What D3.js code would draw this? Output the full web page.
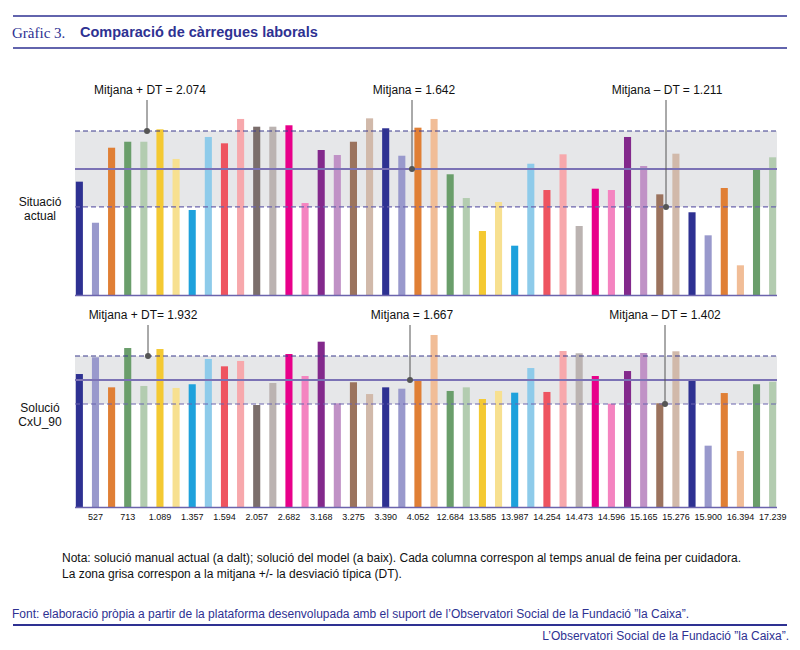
<!DOCTYPE html>
<html><head><meta charset="utf-8">
<script src="https://cdn.jsdelivr.net/npm/d3@7"></script>
<style>body{margin:0;background:#fff}svg{display:block}</style>
</head><body>
<svg id="c" width="800" height="650"></svg>
<script>
const categories = d3.range(1,45).map(String);
const tickLabels = ["527","713","1.089","1.357","1.594","2.057","2.682","3.168","3.275","3.390","4.052","12.684","13.585","13.987","14.254","14.473","14.596","15.165","15.276","15.900","16.394","17.239"];
const actual = [1498,1031,1884,1952,1952,2093,1756,1176,2006,1934,2211,2123,2123,2139,1255,1858,1801,1952,2218,2105,1793,2112,2211,1582,1312,937,1267,770,1702,1403,1809,994,1418,1403,2006,1676,1354,1816,1150,888,1426,547,1650,1775];
const cxu = [1733,1918,1586,2020,1601,2009,1579,1620,1899,1818,1877,1391,1634,1954,1711,2090,1410,1642,1512,1586,1571,1667,2164,1546,1586,1457,1546,1527,1799,1535,1987,1962,1711,1405,1766,1965,1410,1984,1675,942,1523,883,1620,1648];
const colors = ["#2e3192","#9999cc","#e07f35","#6a9e6b","#b3ccb0","#f4c932","#f7e090","#1ea1dc","#8ecbea","#ee5460","#f7a8ac","#7b6e6c","#bbb3b1","#e8008a","#f484c0","#83298c","#c092c6","#9b735e","#d1b9aa","#2e3192","#9999cc","#e07f35","#f1bd97","#6a9e6b","#b3ccb0","#f4c932","#f7e090","#1ea1dc","#8ecbea","#ee5460","#f7a8ac","#bbb3b1","#e8008a","#f484c0","#83298c","#c092c6","#9b735e","#d1b9aa","#2e3192","#9999cc","#e07f35","#f1bd97","#6a9e6b","#b3ccb0"];
const statsTop = {mean:1642, plus:2074, minus:1211};
const statsBot = {mean:1667, plus:1932, minus:1402};

const svg = d3.select("#c");
const blue = "#2e3192";
const x = d3.scaleBand().domain(categories).range([75,777]).paddingInner(0.56).paddingOuter(0.05);

function panel(vals, st, yBase, yMean, pxPer, labels, ann, annY){
  const y = d3.scaleLinear().domain([st.mean - (yBase-yMean)*pxPer, st.mean]).range([yBase, yMean]);
  const g = svg.append("g");
  g.append("rect").attr("x",75).attr("width",702).attr("y",y(st.plus)).attr("height",y(st.minus)-y(st.plus)).attr("fill","#e6e7e9");
  g.selectAll(".b").data(vals).join("rect").attr("x",(d,i)=>x(categories[i])).attr("width",x.bandwidth())
    .attr("y",d=>y(d)).attr("height",d=>yBase-y(d)).attr("fill",(d,i)=>colors[i]);
  g.append("line").attr("x1",75).attr("x2",777).attr("y1",y(st.plus)).attr("y2",y(st.plus)).attr("stroke","#3a3a8c").attr("stroke-dasharray","5,3").attr("stroke-width",1.2);
  g.append("line").attr("x1",75).attr("x2",777).attr("y1",y(st.minus)).attr("y2",y(st.minus)).attr("stroke","#6b64ad").attr("stroke-dasharray","5,3").attr("stroke-width",1.2);
  g.append("line").attr("x1",75).attr("x2",777).attr("y1",y(st.mean)).attr("y2",y(st.mean)).attr("stroke","#7b72b5").attr("stroke-width",2);
  g.append("line").attr("x1",75).attr("x2",777).attr("y1",yBase+0.5).attr("y2",yBase+0.5).attr("stroke","#6b64ad").attr("stroke-width",1.5);
  ann.forEach(a=>{
    const yy = y(st[a.k]);
    g.append("line").attr("x1",a.x).attr("x2",a.x).attr("y1",annY+6).attr("y2",yy).attr("stroke","#555").attr("stroke-width",1);
    g.append("circle").attr("cx",a.x).attr("cy",yy).attr("r",3).attr("fill","#555");
    g.append("text").attr("x",a.tx).attr("y",annY).attr("text-anchor","middle").attr("font-size",12).attr("font-family","Liberation Sans, Arial").attr("fill","#111").text(a.t);
  });
  g.append("text").attr("x",40).attr("y",labels[2]).attr("text-anchor","middle").attr("font-size",12).attr("font-family","Liberation Sans, Arial").attr("fill","#111")
    .selectAll("tspan").data(labels.slice(0,2)).join("tspan").attr("x",40).attr("dy",(d,i)=>i?14:0).text(d=>d);
  return y;
}
panel(actual, statsTop, 295, 169, 11.37, ["Situació","actual",206],
 [{k:"plus",x:147,tx:150,t:"Mitjana + DT = 2.074"},{k:"mean",x:412,tx:414,t:"Mitjana = 1.642"},{k:"minus",x:666,tx:667,t:"Mitjana – DT = 1.211"}], 94);
panel(cxu, statsBot, 507, 380, 11.04, ["Solució","CxU_90",412],
 [{k:"plus",x:148,tx:143,t:"Mitjana + DT= 1.932"},{k:"mean",x:410,tx:412,t:"Mitjana = 1.667"},{k:"minus",x:665,tx:665,t:"Mitjana – DT = 1.402"}], 319);

svg.append("g").selectAll("text").data(tickLabels).join("text")
  .attr("x",(d,i)=>x(categories[2*i+1])+x.bandwidth()/2).attr("y",520).attr("text-anchor","middle")
  .attr("font-size",9).attr("font-family","Liberation Sans Narrow, Liberation Sans, Arial").attr("fill","#111").text(d=>d);

// header
svg.append("line").attr("x1",13).attr("x2",787).attr("y1",16).attr("y2",16).attr("stroke",blue).attr("stroke-width",1.5);
svg.append("line").attr("x1",13).attr("x2",787).attr("y1",48).attr("y2",48).attr("stroke",blue).attr("stroke-width",1.5);
svg.append("text").attr("x",12).attr("y",38).attr("font-family","Liberation Serif, DejaVu Serif").attr("font-size",15).attr("fill",blue).text("Gràfic 3.");
svg.append("text").attr("x",80).attr("y",37).attr("font-family","Liberation Sans, Arial").attr("font-weight","bold").attr("font-size",14.5).attr("fill",blue).text("Comparació de càrregues laborals");
// notes
svg.append("text").attr("x",62).attr("y",562).attr("font-size",12).attr("font-family","Liberation Sans, Arial").attr("fill","#111").text("Nota: solució manual actual (a dalt); solució del model (a baix). Cada columna correspon al temps anual de feina per cuidadora.");
svg.append("text").attr("x",62).attr("y",578).attr("font-size",12).attr("font-family","Liberation Sans, Arial").attr("fill","#111").text("La zona grisa correspon a la mitjana +/- la desviació típica (DT).");
svg.append("text").attr("x",12).attr("y",618).attr("font-size",12).attr("font-family","Liberation Sans Narrow, Liberation Sans, Arial").attr("fill",blue).text("Font: elaboració pròpia a partir de la plataforma desenvolupada amb el suport de l’Observatori Social de la Fundació ”la Caixa”.");
svg.append("line").attr("x1",13).attr("x2",787).attr("y1",625).attr("y2",625).attr("stroke",blue).attr("stroke-width",2);
svg.append("text").attr("x",789).attr("y",640).attr("text-anchor","end").attr("font-size",12).attr("font-family","Liberation Sans Narrow, Liberation Sans, Arial").attr("fill",blue).text("L’Observatori Social de la Fundació ”la Caixa”.");
</script>
</body></html>
